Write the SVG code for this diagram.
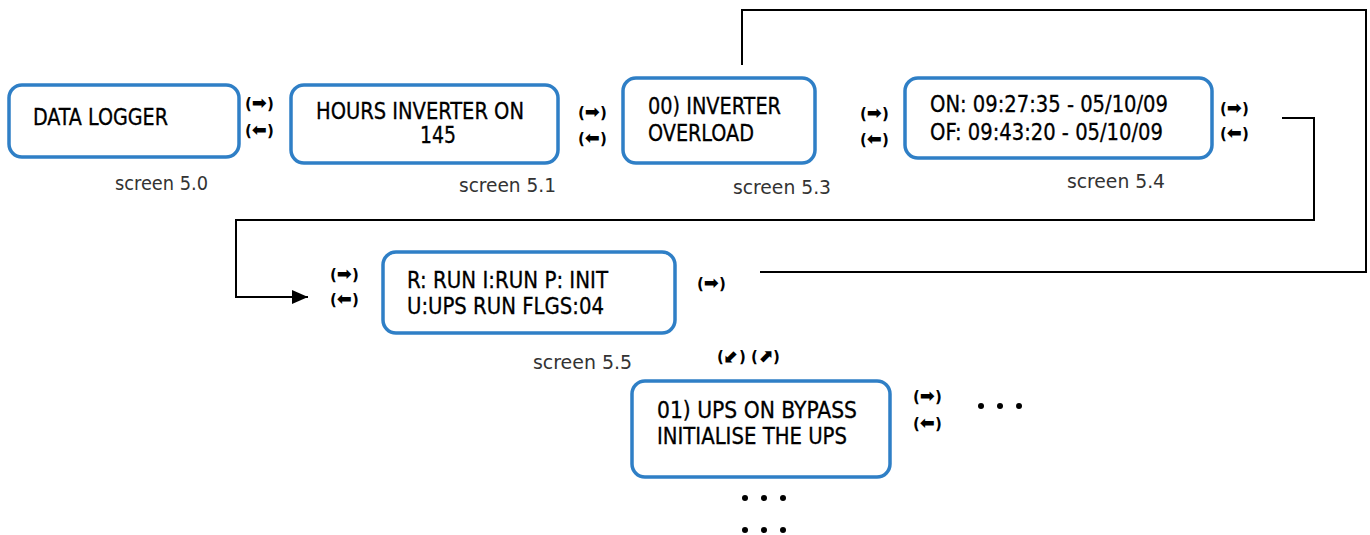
<svg xmlns="http://www.w3.org/2000/svg" width="1370" height="535" viewBox="0 0 1370 535">
<style>
.box{fill:#fff;stroke:#2f7fc6;stroke-width:3.5}
.t{font-family:"Liberation Sans Narrow","DejaVu Sans Condensed","Liberation Sans",sans-serif;font-size:23px;fill:#000;stroke:#000;stroke-width:0.3}
.s{font-family:"Liberation Sans Narrow","DejaVu Sans Condensed","Liberation Sans",sans-serif;font-size:20px;fill:#333}
.a{font-family:"DejaVu Sans","Liberation Sans",sans-serif;font-size:15px;font-weight:bold;fill:#000}
.g{font-family:"DejaVu Sans",sans-serif;font-size:18px;font-weight:bold}
.c{fill:none;stroke:#000;stroke-width:2}
.d{fill:#000}
</style>
<defs>
<marker id="ah" viewBox="0 0 16 14" refX="16" refY="7" markerWidth="16" markerHeight="14" markerUnits="userSpaceOnUse" orient="auto">
<path d="M0,0 L16,7 L0,14 Z" fill="#000"/>
</marker>
</defs>
<g id="connectors">
<path class="c" d="M742,65 V10 H1366 V272 H760"/>
<path class="c" d="M1282,118 H1314 V220 H236 V297 H308" marker-end="url(#ah)"/>
</g>
<g id="screen50">
<rect class="box" x="9" y="85" width="230" height="72" rx="13"/>
<text class="t" x="33" y="125" textLength="135" lengthAdjust="spacingAndGlyphs">DATA LOGGER</text>
<text class="s" x="115" y="190" textLength="93" lengthAdjust="spacingAndGlyphs">screen 5.0</text>
</g>
<g id="nav1">
<text class="a" x="245" y="109">(<tspan class="g">➡</tspan>)</text>
<text class="a" x="245" y="136">(<tspan class="g">⬅</tspan>)</text>
</g>
<g id="screen51">
<rect class="box" x="291" y="85" width="267" height="78" rx="13"/>
<text class="t" x="316" y="119" textLength="208" lengthAdjust="spacingAndGlyphs">HOURS INVERTER ON</text>
<text class="t" x="420" y="143" textLength="36" lengthAdjust="spacingAndGlyphs">145</text>
<text class="s" x="459" y="192" textLength="97" lengthAdjust="spacingAndGlyphs">screen 5.1</text>
</g>
<g id="nav2">
<text class="a" x="578" y="118">(<tspan class="g">➡</tspan>)</text>
<text class="a" x="578" y="144">(<tspan class="g">⬅</tspan>)</text>
</g>
<g id="screen53">
<rect class="box" x="623" y="78" width="192" height="85" rx="13"/>
<text class="t" x="648" y="114" textLength="133" lengthAdjust="spacingAndGlyphs">00) INVERTER</text>
<text class="t" x="648" y="141" textLength="106" lengthAdjust="spacingAndGlyphs">OVERLOAD</text>
<text class="s" x="733" y="194" textLength="98" lengthAdjust="spacingAndGlyphs">screen 5.3</text>
</g>
<g id="nav3">
<text class="a" x="860" y="119">(<tspan class="g">➡</tspan>)</text>
<text class="a" x="860" y="145">(<tspan class="g">⬅</tspan>)</text>
</g>
<g id="screen54">
<rect class="box" x="905" y="78" width="307" height="80" rx="13"/>
<text class="t" x="930" y="112" textLength="238" lengthAdjust="spacingAndGlyphs">ON: 09:27:35 - 05/10/09</text>
<text class="t" x="930" y="140" textLength="233" lengthAdjust="spacingAndGlyphs">OF: 09:43:20 - 05/10/09</text>
<text class="s" x="1067" y="188" textLength="98" lengthAdjust="spacingAndGlyphs">screen 5.4</text>
</g>
<g id="nav4">
<text class="a" x="1220" y="114">(<tspan class="g">➡</tspan>)</text>
<text class="a" x="1220" y="139">(<tspan class="g">⬅</tspan>)</text>
</g>
<g id="nav5left">
<text class="a" x="330" y="280">(<tspan class="g">➡</tspan>)</text>
<text class="a" x="330" y="305">(<tspan class="g">⬅</tspan>)</text>
</g>
<g id="screen55">
<rect class="box" x="383" y="252" width="292" height="81" rx="13"/>
<text class="t" x="407" y="288" textLength="201" lengthAdjust="spacingAndGlyphs">R: RUN I:RUN P: INIT</text>
<text class="t" x="407" y="314" textLength="197" lengthAdjust="spacingAndGlyphs">U:UPS RUN FLGS:04</text>
<text class="s" x="533" y="369" textLength="99" lengthAdjust="spacingAndGlyphs">screen 5.5</text>
</g>
<g id="nav5right">
<text class="a" x="697" y="289">(<tspan class="g">➡</tspan>)</text>
<text class="a" x="717" y="362">(<tspan class="g">⬋</tspan>) (<tspan class="g">⬈</tspan>)</text>
</g>
<g id="screen56">
<rect class="box" x="632" y="381" width="258" height="96" rx="13"/>
<text class="t" x="657" y="418" textLength="200" lengthAdjust="spacingAndGlyphs">01) UPS ON BYPASS</text>
<text class="t" x="657" y="444" textLength="190" lengthAdjust="spacingAndGlyphs">INITIALISE THE UPS</text>
</g>
<g id="nav6">
<text class="a" x="913" y="402">(<tspan class="g">➡</tspan>)</text>
<text class="a" x="913" y="429">(<tspan class="g">⬅</tspan>)</text>
</g>
<g id="more">
<circle class="d" cx="981" cy="406" r="3"/><circle class="d" cx="1000" cy="406" r="3"/><circle class="d" cx="1019" cy="406" r="3"/>
<circle class="d" cx="745" cy="498" r="3"/><circle class="d" cx="764" cy="498" r="3"/><circle class="d" cx="783" cy="498" r="3"/>
<circle class="d" cx="745" cy="530" r="3"/><circle class="d" cx="764" cy="530" r="3"/><circle class="d" cx="783" cy="530" r="3"/>
</g>
</svg>
